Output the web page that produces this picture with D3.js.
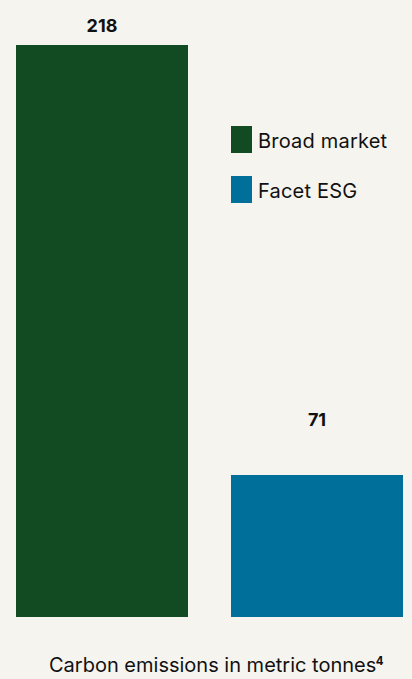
<!DOCTYPE html>
<html>
<head>
<meta charset="utf-8">
<script src="https://cdn.jsdelivr.net/npm/d3@7/dist/d3.min.js"></script>
<style>
  html, body { margin: 0; padding: 0; background: #f6f4ef; }
  svg { display: block; }
</style>
</head>
<body>
<svg id="chart" width="412" height="679"></svg>
<script>
const categories = ["Broad market", "Facet ESG"];
const values = [218, 71];
const colors = ["#124a21", "#006f99"];
const caption = "Carbon emissions in metric tonnes";
const captionSup = "4";

const W = 412, H = 679;
const svg = d3.select("#chart");
svg.append("rect").attr("width", W).attr("height", H).attr("fill", "#f6f4ef");

const font = "Inter, 'Noto Sans', sans-serif";

const x = d3.scaleBand().domain(categories).range([16, 403]).paddingInner(0.2).paddingOuter(0);
const y = d3.scaleLinear().domain([22.45, 218]).range([617, 45]);
const yLabel = d3.scaleLinear().domain([71, 218]).range([426, 32]);

svg.selectAll("rect.bar").data(categories).join("rect")
  .attr("class", "bar")
  .attr("x", d => x(d))
  .attr("width", x.bandwidth())
  .attr("y", (d, i) => y(values[i]))
  .attr("height", (d, i) => y.range()[0] - y(values[i]))
  .attr("fill", (d, i) => colors[i]);

svg.selectAll("text.val").data(categories).join("text")
  .attr("class", "val")
  .attr("x", d => x(d) + x.bandwidth() / 2)
  .attr("y", (d, i) => yLabel(values[i]))
  .attr("text-anchor", "middle")
  .attr("font-family", font)
  .attr("font-weight", 700)
  .attr("font-size", 18)
  .attr("fill", "#111")
  .text((d, i) => values[i]);

const leg = svg.append("g");
categories.forEach((c, i) => {
  const gy = 126 + i * 50;
  leg.append("rect").attr("x", 231).attr("y", gy).attr("width", 21).attr("height", 27).attr("fill", colors[i]);
  leg.append("text").attr("x", 258).attr("y", gy + 22)
    .attr("font-family", font).attr("font-size", 20).attr("letter-spacing", 0.2)
    .attr("fill", "#111").text(c);
});

const cap = svg.append("text")
  .attr("x", 49).attr("y", 672)
  .attr("font-family", font).attr("font-size", 20).attr("fill", "#111");
cap.append("tspan").text(caption);
cap.append("tspan").attr("font-size", 11.5).attr("dy", -7).attr("dx", -0.5).attr("font-weight", 700).text(captionSup);
</script>
</body>
</html>
